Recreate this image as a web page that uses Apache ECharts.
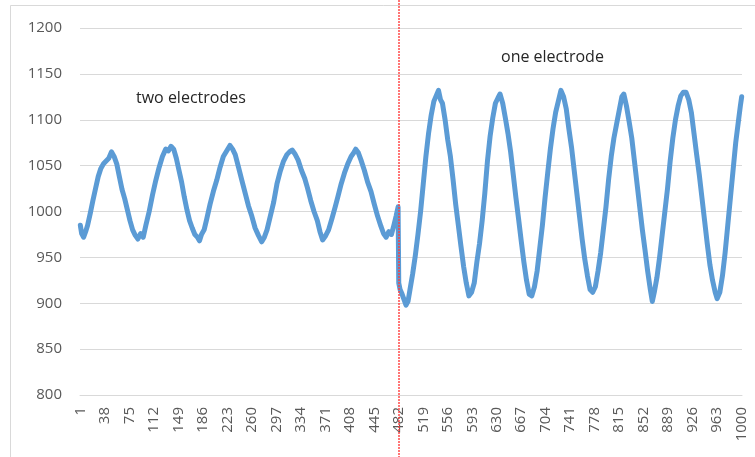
<!DOCTYPE html>
<html>
<head>
<meta charset="utf-8">
<script src="https://cdn.jsdelivr.net/npm/echarts@6/dist/echarts.min.js"></script>
<style>html,body{margin:0;padding:0;background:#fff}#c{width:755px;height:457px}</style>
</head>
<body>
<div id="c"></div>
<script>
// sample numbers (category axis 1..1000)
const categories = Array.from({length: 1000}, (_, i) => String(i + 1));
// y-axis ticks
const yTicks = [800, 850, 900, 950, 1000, 1050, 1100, 1150, 1200];
// read-off points of the signal: sample index and value
const sampleIndex = [
  1,3,6,9,12,16,20,24,28,32,36,40,44,48,52,56,60,64,68,72,76,80,84,88,92,96,
  100,105,110,115,120,125,130,134,138,142,146,150,154,158,162,166,170,174,178,181,184,188,192,197,
  202,207,212,217,222,227,231,235,240,245,250,255,260,265,270,275,279,283,288,293,298,
  303,308,313,317,321,325,330,335,340,344,349,354,359,363,367,371,376,381,386,390,395,
  400,405,410,414,417,421,425,430,435,440,445,450,455,459,463,467,471,475,478,481,
  482,484,487,490,493,496,499,503,507,511,515,519,523,527,531,535,538,542,545,548,552,556,560,564,568,572,576,580,584,588,592,596,
  600,604,608,612,616,620,624,628,632,635,639,643,647,651,655,659,663,667,671,675,679,683,687,691,695,699,
  703,707,711,715,719,723,727,731,735,739,743,747,751,755,759,763,767,771,775,779,783,787,791,795,799,
  803,807,811,815,819,822,826,830,834,838,842,846,850,854,858,862,865,868,872,876,880,884,888,892,896,
  900,904,908,912,916,920,924,928,932,936,940,944,948,952,956,960,963,967,971,975,979,983,987,991,995,998,1000
];
const signal = [
  985,976,972,978,985,998,1012,1025,1038,1047,1052,1055,1058,1065,1060,1052,1038,1024,1014,1002,990,980,974,970,976,972,
  985,1000,1018,1034,1048,1060,1068,1066,1071,1068,1058,1045,1032,1016,1002,990,982,975,972,968,975,980,992,1008,
  1022,1034,1048,1060,1066,1072,1068,1062,1048,1034,1020,1006,995,982,974,967,972,980,995,1010,1030,
  1044,1055,1062,1065,1067,1063,1056,1045,1036,1026,1012,1000,990,978,969,973,980,992,1005,1016,1030,
  1042,1052,1060,1064,1068,1064,1056,1045,1032,1022,1008,995,984,976,972,978,975,986,995,1005,
  922,915,910,904,898,902,915,932,952,975,1000,1030,1060,1085,1105,1120,1122,1132,1122,1118,1100,1078,1060,1035,1008,985,962,940,922,908,912,922,
  945,965,990,1020,1055,1082,1102,1118,1124,1128,1118,1102,1085,1065,1040,1015,992,968,945,925,910,908,918,935,960,985,
  1015,1042,1068,1090,1108,1120,1132,1125,1112,1090,1070,1045,1020,995,970,948,930,915,912,918,935,955,980,1005,1035,
  1060,1080,1095,1110,1125,1128,1115,1098,1080,1055,1030,1005,980,958,935,915,902,912,928,950,975,1000,1025,1055,1080,
  1100,1115,1126,1130,1130,1122,1108,1085,1062,1040,1015,990,965,942,925,912,905,912,930,955,985,1015,1045,1075,1098,1115,1125
];

const chart = echarts.init(document.getElementById('c'), null, {renderer: 'canvas'});
const FONT = 'Open Sans';
chart.setOption({
  animation: false,
  backgroundColor: '#ffffff',
  grid: {left: 80, right: 13, top: 28, bottom: 62, containLabel: false},
  xAxis: {
    type: 'category',
    data: categories,
    boundaryGap: true,
    axisLine: {show: true, lineStyle: {color: '#d9d9d9', width: 1}},
    axisTick: {show: false},
    axisLabel: {interval: 36, rotate: 90, margin: 12, color: '#595959', fontSize: 15, fontFamily: FONT}
  },
  yAxis: {
    type: 'value',
    min: yTicks[0], max: yTicks[yTicks.length - 1], interval: 50,
    axisLine: {show: false},
    axisTick: {show: false},
    axisLabel: {color: '#595959', fontSize: 15, fontFamily: FONT, margin: 18, formatter: v => String(v)},
    splitLine: {lineStyle: {color: '#d9d9d9', width: 1}}
  },
  series: [{
    type: 'line',
    data: sampleIndex.map((x, i) => [String(x), signal[i]]),
    showSymbol: false,
    lineStyle: {color: '#5b9bd5', width: 5, join: 'round', cap: 'round'},
    silent: true
  }]
});

const px = Math.round(chart.convertToPixel({xAxisIndex: 0}, '482'));
chart.setOption({
  graphic: [
    {type: 'rect', shape: {x: 10.5, y: 5.5, width: 760, height: 470}, style: {fill: null, stroke: '#d9d9d9', lineWidth: 1}, silent: true},
    {type: 'line', shape: {x1: px, y1: 0, x2: px, y2: 457}, style: {stroke: 'rgba(255,60,60,0.7)', lineWidth: 2, lineDash: [2, 1]}, z: 10, silent: true},
    {type: 'text', left: 136, top: 90, style: {text: 'two electrodes', fill: '#262626', font: '16px "Open Sans"'}},
    {type: 'text', left: 501, top: 49, style: {text: 'one electrode', fill: '#262626', font: '16px "Open Sans"'}}
  ]
});
</script>
</body>
</html>
